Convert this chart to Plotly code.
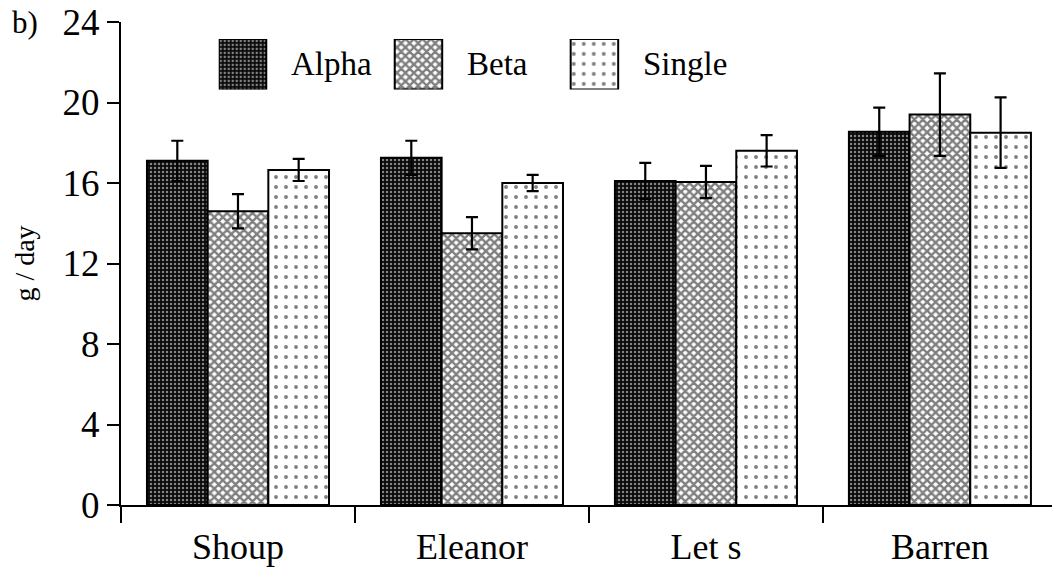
import plotly.graph_objects as go

# ---- data ----
categories = ["Shoup", "Eleanor", "Let s", "Barren"]
series_names = ["Alpha", "Beta", "Single"]
alpha = [17.1, 17.25, 16.1, 18.55]
alpha_err = [1.0, 0.85, 0.9, 1.2]
beta = [14.6, 13.5, 16.05, 19.4]
beta_err = [0.85, 0.8, 0.8, 2.05]
single = [16.65, 16.0, 17.6, 18.5]
single_err = [0.55, 0.4, 0.78, 1.75]
y_ticks = [0, 4, 8, 12, 16, 20, 24]

FONT = "Liberation Serif, Times New Roman, serif"

patterns = [
    dict(shape=".", fgcolor="white", bgcolor="#0a0a0a", size=4, solidity=0.3),
    dict(shape="x", fgcolor="black", bgcolor="white", size=6, solidity=0.65),
    dict(shape=".", fgcolor="black", bgcolor="white", size=10, solidity=0.12),
]

fig = go.Figure()
for vals, errs, name, pat in zip([alpha, beta, single], [alpha_err, beta_err, single_err],
                                 series_names, patterns):
    fig.add_trace(go.Bar(
        x=categories, y=vals, name=name, showlegend=False,
        marker=dict(color="white", pattern=pat, line=dict(color="black", width=2)),
        error_y=dict(type="data", array=errs, symmetric=True, color="black",
                     thickness=2.2, width=6),
    ))

# legend glyphs drawn as bars on a hidden axis
for i, (name, pat) in enumerate(zip(series_names, patterns)):
    fig.add_trace(go.Bar(
        x=[i], y=[1], base=0, width=0.27, offset=0, showlegend=False,
        xaxis="x2", yaxis="y2",
        marker=dict(color="white", pattern=pat, line=dict(color="black", width=2)),
        hoverinfo="skip",
    ))
    fig.add_annotation(x=i + 0.40, y=0.5, xref="x2", yref="y2", text=name,
                       showarrow=False, xanchor="left", yanchor="middle",
                       font=dict(family=FONT, size=33, color="black"))

fig.add_annotation(x=-0.119, y=1.0, xref="paper", yref="paper", text="b)",
                   showarrow=False, xanchor="left", yanchor="middle",
                   font=dict(family=FONT, size=31, color="black"))

fig.update_layout(
    width=1052, height=569,
    margin=dict(l=121, r=0, t=22, b=64),
    paper_bgcolor="white", plot_bgcolor="white",
    barmode="group", bargap=0.222, bargroupgap=0,
    font=dict(family=FONT, color="black"),
    xaxis=dict(type="category", range=[-0.5, 3.479], tickson="boundaries",
               ticks="outside", ticklen=16, tickwidth=1.5, tickcolor="black",
               showline=True, linecolor="black", linewidth=2, showgrid=False,
               tickfont=dict(family=FONT, size=36), ticklabelstandoff=9,
               automargin=False),
    yaxis=dict(range=[0, 24], tickvals=y_ticks, ticks="outside", ticklen=12,
               tickwidth=1.5, tickcolor="black", showline=True, linecolor="black",
               linewidth=2, showgrid=False, zeroline=False,
               tickfont=dict(family=FONT, size=37), automargin=False,
               title=dict(text="g / day", font=dict(family=FONT, size=28), standoff=20)),
    xaxis2=dict(domain=[0.105, 0.672], range=[0, 3], visible=False, anchor="y2"),
    yaxis2=dict(domain=[0.86, 0.965], range=[0, 1], visible=False, anchor="x2"),
)

fig.write_html("out.html", config={"displayModeBar": False},
               post_script="document.body.style.margin='0';document.body.style.padding='0';")
